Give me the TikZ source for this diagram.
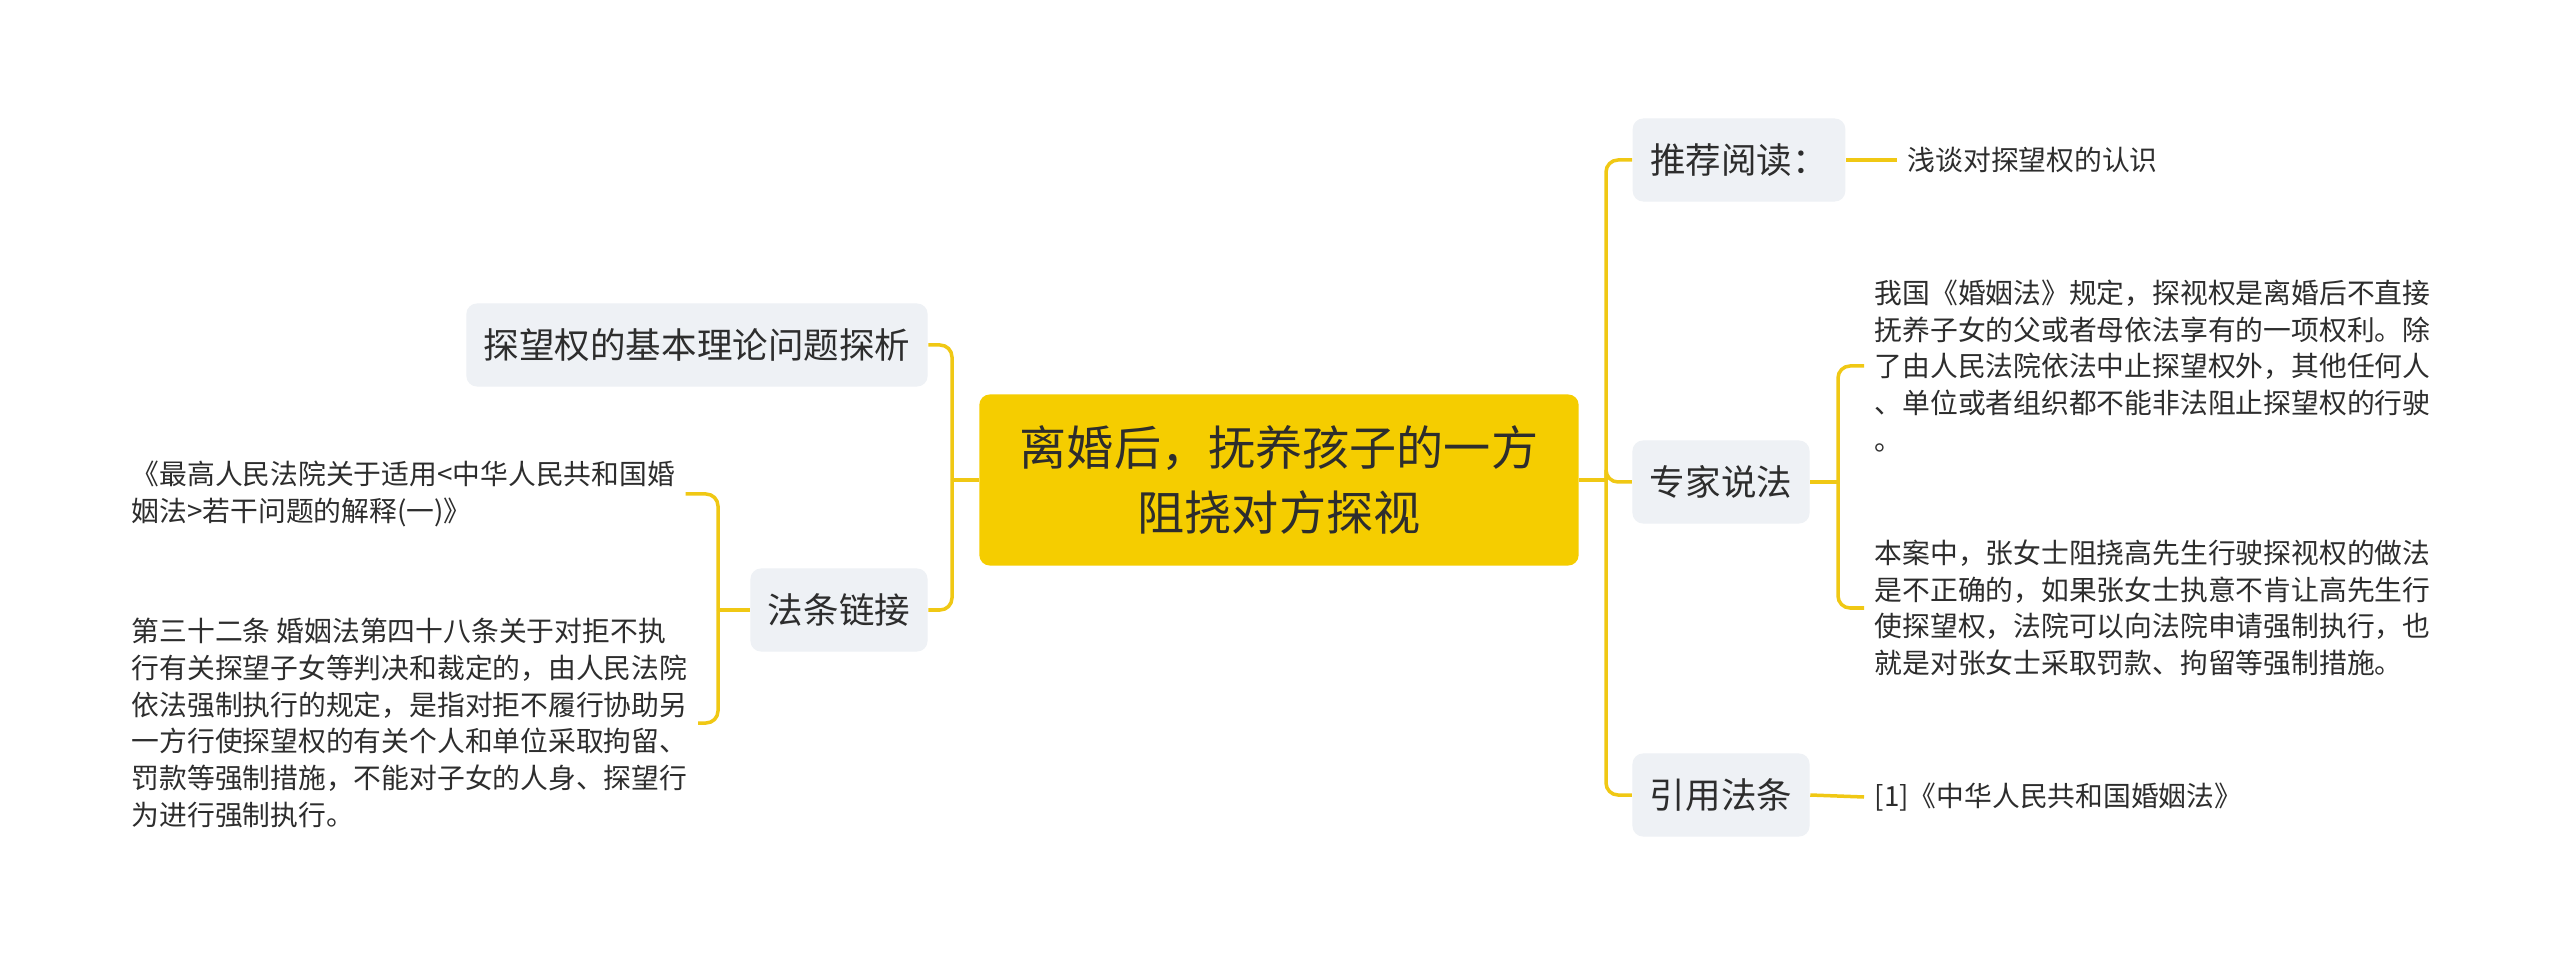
\documentclass[tikz,border=0pt]{standalone}
\usepackage{fontspec}
\setmainfont{Noto Sans CJK SC}
\definecolor{rootc}{RGB}{245,205,0}
\definecolor{boxc}{RGB}{238,241,245}
\definecolor{linkc}{RGB}{240,200,20}
\definecolor{inkc}{RGB}{45,45,45}
\begin{document}
\begin{tikzpicture}[x=0.01cm,y=-0.01cm]
		\tikzset{main/.style = {shape=rectangle, rounded corners=3pt, fill=rootc, text=inkc, align=center, minimum width=5.99cm, minimum height=1.71cm, font=\fontsize{13.4}{18.6}\selectfont}}
		\tikzset{sub/.style = {shape=rectangle, rounded corners=3pt, fill=boxc, text=inkc, inner xsep=0.175cm, minimum height=0.83cm, font=\fontsize{10.1}{12}\selectfont}}
		\tikzset{leaf/.style = {anchor=west, align=left, text=inkc, inner sep=0.1cm, font=\fontsize{7.9}{10.45}\selectfont}}
		\tikzset{link/.style = {draw=linkc, line width=0.035cm, rounded corners=0.12cm}}

		\fill[white] (0,0) rectangle (2560,964);
		\useasboundingbox (0,0) rectangle (2560,964);

		\node[main] (root) at (1279,480) {离婚后，抚养孩子的一方\\阻挠对方探视};

		\node[sub] (S_1) at (697,345) {探望权的基本理论问题探析};
		\node[sub] (S_2) at (839,610) {法条链接};
		\node[sub] (S_3) at (1739,160) {推荐阅读：};
		\node[sub] (S_4) at (1721,482) {专家说法};
		\node[sub] (S_5) at (1721,795) {引用法条};

		\node[leaf] (C_1) at (121,494) {《最高人民法院关于适用<中华人民共和国婚\\姻法>若干问题的解释(一)》};
		\node[leaf] (C_2) at (121,723) {第三十二条 婚姻法第四十八条关于对拒不执\\行有关探望子女等判决和裁定的，由人民法院\\依法强制执行的规定，是指对拒不履行协助另\\一方行使探望权的有关个人和单位采取拘留、\\罚款等强制措施，不能对子女的人身、探望行\\为进行强制执行。};
		\node[leaf] (C_3) at (1897,160) {浅谈对探望权的认识};
		\node[leaf] (C_4) at (1864,366) {我国《婚姻法》规定，探视权是离婚后不直接\\抚养子女的父或者母依法享有的一项权利。除\\了由人民法院依法中止探望权外，其他任何人\\、单位或者组织都不能非法阻止探望权的行驶\\。};
		\node[leaf] (C_5) at (1864,608) {本案中，张女士阻挠高先生行驶探视权的做法\\是不正确的，如果张女士执意不肯让高先生行\\使探望权，法院可以向法院申请强制执行，也\\就是对张女士采取罚款、拘留等强制措施。};
		\node[leaf] (C_6) at (1864,797) {[1]《中华人民共和国婚姻法》};

		\coordinate (J_l) at (952,480);
		\coordinate (J_r) at (1606,480);
		\coordinate (J_c) at (718,610);
		\coordinate (J_x) at (1838,482);

		\draw[link] (root.west)--(J_l);
		\draw[link] (J_l) |- (S_1.east);
		\draw[link] (J_l) |- (S_2.east);

		\draw[link] (root.east)--(J_r);
		\draw[link] (J_r) |- (S_3.west);
		\draw[link] (J_r) |- (S_4.west);
		\draw[link] (J_r) |- (S_5.west);

		\draw[link] (S_2.west)--(J_c);
		\draw[link] (J_c) |- (C_1.east);
		\draw[link] (J_c) |- (C_2.east);

		\draw[link] (S_3.east)--(C_3.west);
		\draw[link] (S_4.east)--(J_x);
		\draw[link] (J_x) |- (C_4.west);
		\draw[link] (J_x) |- (C_5.west);
		\draw[link] (S_5.east)--(C_6.west);

	\end{tikzpicture}
\end{document}
